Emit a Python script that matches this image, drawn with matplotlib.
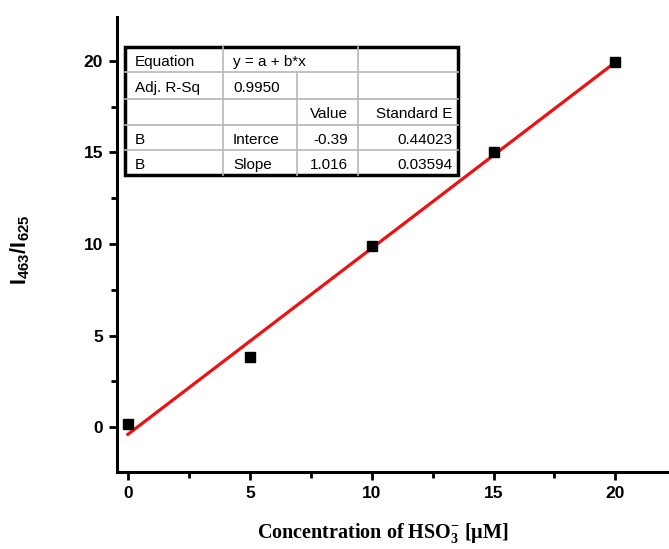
import matplotlib.pyplot as plt
import numpy as np
from matplotlib.ticker import MultipleLocator
from matplotlib.lines import Line2D

conc = [0, 5, 10, 15, 20]
ratio = [0.15, 3.83, 9.9, 15.05, 19.95]
intercept = -0.39
slope = 1.016

table_rows = [
    ["Equation", "y = a + b*x", "", ""],
    ["Adj. R-Sq", "0.9950", "", ""],
    ["", "", "Value", "Standard E"],
    ["B", "Interce", "-0.39", "0.44023"],
    ["B", "Slope", "1.016", "0.03594"],
]

W, H = 669, 549
fig = plt.figure(figsize=(W / 100, H / 100), dpi=100)
ax = fig.add_axes([117 / W, 1 - 472 / H, 1 - 117 / W, (472 - 17) / H])

xfit = np.array([0, 20])
ax.plot(xfit, intercept + slope * xfit, color="#ee1111", lw=2.3, zorder=2)
ax.plot(conc, ratio, "s", color="black", ms=6.5, zorder=3)

ax.set_xlim(-0.45, 22.2)
ax.set_ylim(-2.45, 22.4)
ax.xaxis.set_major_locator(MultipleLocator(5))
ax.xaxis.set_minor_locator(MultipleLocator(2.5))
ax.yaxis.set_major_locator(MultipleLocator(5))
ax.yaxis.set_minor_locator(MultipleLocator(2.5))
for s in ["top", "right"]:
    ax.spines[s].set_visible(False)
for s in ["left", "bottom"]:
    ax.spines[s].set_linewidth(2.2)
ax.tick_params(which="major", direction="out", length=6, width=2, labelsize=12.5, pad=4)
ax.tick_params(which="minor", direction="out", length=4, width=2)
for lab in ax.get_xticklabels() + ax.get_yticklabels():
    lab.set_fontweight("bold")
    lab.set_family("Liberation Sans")

fig.text(383 / W, 1 - 534 / H,
         r"Concentration of HSO$_{\mathregular{3}}^{\mathregular{-}}$ [$\mathregular{\mu}$M]",
         family="Liberation Serif", fontweight="bold", fontsize=14.5,
         ha="center", va="center")
fig.text(20 / W, 1 - 250 / H, r"I$_{\mathregular{463}}$/I$_{\mathregular{625}}$",
         family="Liberation Sans", fontweight="bold", fontsize=15.5, rotation=90,
         ha="center", va="center")

# fit results table
cols = [125, 223, 297, 358, 458]
rows = [47, 72, 99, 125, 150, 175]
fx = lambda p: p / W
fy = lambda p: 1 - p / H
gray = "#b8b8b8"
for r in rows[1:-1]:
    fig.add_artist(Line2D([fx(cols[0]), fx(cols[-1])], [fy(r), fy(r)], color=gray, lw=1.2))
for c in cols[1:-1]:
    top = rows[1] if c == cols[2] else rows[0]
    fig.add_artist(Line2D([fx(c), fx(c)], [fy(top), fy(rows[-1])], color=gray, lw=1.2))
fig.add_artist(plt.Rectangle((fx(cols[0]), fy(rows[-1])), fx(cols[-1]) - fx(cols[0]),
                             fy(rows[0]) - fy(rows[-1]), fill=False, ec="black", lw=2.5,
                             transform=fig.transFigure))
for ri, row in enumerate(table_rows):
    yc = fy((rows[ri] + rows[ri + 1]) / 2 + 2.5)
    for ci, txt in enumerate(row):
        if not txt:
            continue
        if ci >= 2:
            pad = 10 if ci == 2 else 6
            fig.text(fx(cols[ci + 1] - pad), yc, txt, ha="right", va="center",
                     fontsize=11, family="Liberation Sans")
        else:
            fig.text(fx(cols[ci] + 10), yc, txt, ha="left", va="center",
                     fontsize=11, family="Liberation Sans")

fig.savefig("out.png", dpi=100)
